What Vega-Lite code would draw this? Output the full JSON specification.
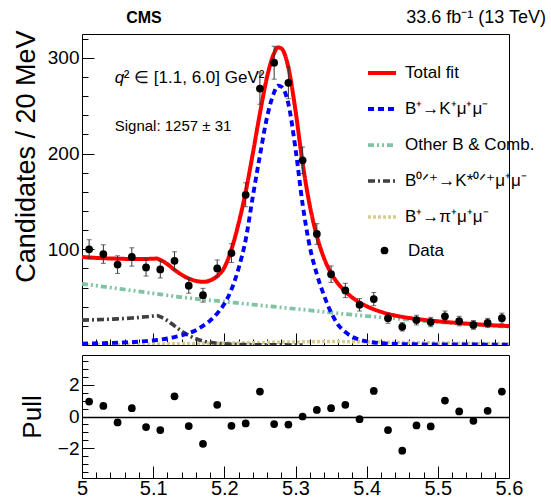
{
  "$schema": "https://vega.github.io/schema/vega-lite/v6.json",
  "padding": {"left": 11, "top": 8, "right": 0, "bottom": 0},
  "background": "white",
  "spacing": 5,
  "config": {
    "font": "Liberation Sans",
    "view": {"stroke": "#000", "strokeWidth": 1},
    "axis": {"domain": false, "ticks": true, "tickColor": "black", "tickWidth": 1, "tickOpacity": 1, "labelColor": "#000", "titleColor": "#000", "grid": false, "labelFont": "Liberation Sans", "titleFont": "Liberation Sans", "titleFontWeight": "normal", "zindex": 1}
  },
  "datasets": {
    "fit": [
      {"m": 5.00, "total": 92, "sig": 1.5, "comb": 64, "kst": 26, "pi": 0.3},
      {"m": 5.01, "total": 91.5, "sig": 1.6, "comb": 63, "kst": 26.2, "pi": 0.35},
      {"m": 5.02, "total": 91, "sig": 1.8, "comb": 62, "kst": 26.4, "pi": 0.4},
      {"m": 5.03, "total": 90.7, "sig": 2, "comb": 61, "kst": 26.7, "pi": 0.45},
      {"m": 5.04, "total": 90.4, "sig": 2.2, "comb": 60, "kst": 27, "pi": 0.5},
      {"m": 5.05, "total": 90.2, "sig": 2.4, "comb": 59, "kst": 27.3, "pi": 0.55},
      {"m": 5.06, "total": 90, "sig": 2.7, "comb": 58, "kst": 27.7, "pi": 0.6},
      {"m": 5.07, "total": 89.8, "sig": 3, "comb": 57, "kst": 28.2, "pi": 0.7},
      {"m": 5.08, "total": 89.8, "sig": 3.5, "comb": 56, "kst": 28.8, "pi": 0.8},
      {"m": 5.09, "total": 89.9, "sig": 4.1, "comb": 55, "kst": 29.5, "pi": 0.9},
      {"m": 5.10, "total": 90.2, "sig": 4.8, "comb": 54, "kst": 30.3, "pi": 1.0},
      {"m": 5.105, "total": 90.3, "sig": 5.2, "comb": 53.5, "kst": 30.8, "pi": 1.05},
      {"m": 5.11, "total": 89, "sig": 5.7, "comb": 53, "kst": 29.5, "pi": 1.1},
      {"m": 5.12, "total": 84.5, "sig": 6.8, "comb": 52, "kst": 25.5, "pi": 1.2},
      {"m": 5.13, "total": 78.5, "sig": 8.2, "comb": 51, "kst": 20, "pi": 1.3},
      {"m": 5.14, "total": 73.5, "sig": 10, "comb": 50, "kst": 14.5, "pi": 1.4},
      {"m": 5.15, "total": 69.5, "sig": 12.3, "comb": 49.2, "kst": 10, "pi": 1.5},
      {"m": 5.16, "total": 67, "sig": 15.5, "comb": 48.3, "kst": 6.5, "pi": 1.6},
      {"m": 5.17, "total": 66, "sig": 20, "comb": 47.5, "kst": 4.2, "pi": 1.7},
      {"m": 5.18, "total": 67.5, "sig": 25.5, "comb": 46.7, "kst": 2.8, "pi": 1.8},
      {"m": 5.19, "total": 72, "sig": 33, "comb": 46, "kst": 1.8, "pi": 1.9},
      {"m": 5.20, "total": 81, "sig": 43, "comb": 45.3, "kst": 1.2, "pi": 2.0},
      {"m": 5.21, "total": 100, "sig": 58, "comb": 44.5, "kst": 0.8, "pi": 2.1},
      {"m": 5.22, "total": 127, "sig": 80, "comb": 43.7, "kst": 0.6, "pi": 2.2},
      {"m": 5.23, "total": 160, "sig": 110, "comb": 43, "kst": 0.4, "pi": 2.3},
      {"m": 5.24, "total": 200, "sig": 155, "comb": 42.2, "kst": 0.3, "pi": 2.4},
      {"m": 5.25, "total": 242, "sig": 198, "comb": 41.5, "kst": 0.2, "pi": 2.5},
      {"m": 5.26, "total": 280, "sig": 238, "comb": 40.7, "kst": 0.15, "pi": 2.7},
      {"m": 5.27, "total": 305, "sig": 264, "comb": 40, "kst": 0.1, "pi": 2.8},
      {"m": 5.275, "total": 311, "sig": 271, "comb": 39.6, "kst": 0.1, "pi": 2.9},
      {"m": 5.28, "total": 310, "sig": 270, "comb": 39.2, "kst": 0.1, "pi": 3.0},
      {"m": 5.29, "total": 290, "sig": 252, "comb": 38.5, "kst": 0.05, "pi": 3.1},
      {"m": 5.30, "total": 245, "sig": 205, "comb": 37.7, "kst": 0, "pi": 3.2},
      {"m": 5.31, "total": 190, "sig": 147, "comb": 37, "kst": 0, "pi": 3.3},
      {"m": 5.32, "total": 146, "sig": 103, "comb": 36.2, "pi": 3.4},
      {"m": 5.33, "total": 114, "sig": 74, "comb": 35.4, "pi": 3.5},
      {"m": 5.34, "total": 91, "sig": 52, "comb": 34.6, "pi": 3.6},
      {"m": 5.35, "total": 75, "sig": 34, "comb": 33.8, "pi": 3.6},
      {"m": 5.36, "total": 64, "sig": 21, "comb": 33, "pi": 3.6},
      {"m": 5.37, "total": 56, "sig": 13.5, "comb": 32.3, "pi": 3.5},
      {"m": 5.38, "total": 49.5, "sig": 8.5, "comb": 31.6, "pi": 3.4},
      {"m": 5.39, "total": 44.5, "sig": 5.5, "comb": 30.9, "pi": 3.3},
      {"m": 5.40, "total": 40.5, "sig": 3.7, "comb": 30.2, "pi": 3.2},
      {"m": 5.41, "total": 37.3, "sig": 2.6, "comb": 29.6, "pi": 3.1},
      {"m": 5.42, "total": 34.7, "sig": 1.9, "comb": 29, "pi": 3.0},
      {"m": 5.43, "total": 32.5, "sig": 1.4, "comb": 28.4, "pi": 2.9},
      {"m": 5.44, "total": 30.8, "sig": 1.1, "comb": 27.8, "pi": 2.8},
      {"m": 5.45, "total": 29.4, "sig": 0.9, "comb": 27.2, "pi": 2.7},
      {"m": 5.46, "total": 28.2, "sig": 0.8, "comb": 26.6, "pi": 2.6},
      {"m": 5.47, "total": 27.2, "sig": 0.75, "comb": 26, "pi": 2.5},
      {"m": 5.48, "total": 26.3, "sig": 0.7, "comb": 25.2, "pi": 2.4},
      {"m": 5.49, "total": 25.5, "sig": 0.65, "comb": 24.6, "pi": 2.3},
      {"m": 5.50, "total": 24.8, "sig": 0.6, "comb": 24, "pi": 2.2},
      {"m": 5.51, "total": 24.1, "sig": 0.6, "comb": 23.5, "pi": 2.1},
      {"m": 5.52, "total": 23.5, "sig": 0.55, "comb": 23, "pi": 2.0},
      {"m": 5.53, "total": 22.9, "sig": 0.55, "comb": 22.4, "pi": 1.9},
      {"m": 5.54, "total": 22.4, "sig": 0.5, "comb": 21.9, "pi": 1.8},
      {"m": 5.55, "total": 21.9, "sig": 0.5, "comb": 21.4, "pi": 1.7},
      {"m": 5.56, "total": 21.4, "sig": 0.5, "comb": 20.9, "pi": 1.6},
      {"m": 5.57, "total": 20.9, "sig": 0.45, "comb": 20.4, "pi": 1.5},
      {"m": 5.58, "total": 20.5, "sig": 0.45, "comb": 19.9, "pi": 1.4},
      {"m": 5.59, "total": 20.1, "sig": 0.4, "comb": 19.4, "pi": 1.3},
      {"m": 5.60, "total": 19.8, "sig": 0.4, "comb": 19, "pi": 1.2}
    ],
    "pts": [
      {"m": 5.01, "v": 100, "err": 10, "pull": 0.95},
      {"m": 5.03, "v": 95, "err": 9.7, "pull": 0.67},
      {"m": 5.05, "v": 84, "err": 9.2, "pull": -0.38},
      {"m": 5.07, "v": 92, "err": 9.6, "pull": 0.53},
      {"m": 5.09, "v": 81, "err": 9, "pull": -0.67},
      {"m": 5.11, "v": 79, "err": 8.9, "pull": -0.86},
      {"m": 5.13, "v": 88, "err": 9.4, "pull": 1.28},
      {"m": 5.15, "v": 62, "err": 7.9, "pull": -0.61},
      {"m": 5.17, "v": 52, "err": 7.2, "pull": -1.73},
      {"m": 5.19, "v": 80, "err": 8.9, "pull": 0.74},
      {"m": 5.21, "v": 96, "err": 9.8, "pull": -0.59},
      {"m": 5.23, "v": 157, "err": 12.5, "pull": -0.44},
      {"m": 5.25, "v": 268, "err": 16.4, "pull": 1.58},
      {"m": 5.27, "v": 295, "err": 17.2, "pull": -0.48},
      {"m": 5.29, "v": 274, "err": 16.6, "pull": -0.51},
      {"m": 5.31, "v": 193, "err": 13.9, "pull": 0.0},
      {"m": 5.33, "v": 116, "err": 10.8, "pull": 0.42},
      {"m": 5.35, "v": 74, "err": 8.6, "pull": 0.53},
      {"m": 5.37, "v": 57, "err": 7.5, "pull": 0.74},
      {"m": 5.39, "v": 42, "err": 6.5, "pull": -0.17},
      {"m": 5.41, "v": 48, "err": 6.9, "pull": 1.62},
      {"m": 5.43, "v": 28, "err": 5.3, "pull": -0.86},
      {"m": 5.45, "v": 19, "err": 4.4, "pull": -2.17},
      {"m": 5.47, "v": 26, "err": 5.1, "pull": -0.57},
      {"m": 5.49, "v": 24, "err": 4.9, "pull": -0.63},
      {"m": 5.51, "v": 30, "err": 5.5, "pull": 1.01},
      {"m": 5.53, "v": 25, "err": 5, "pull": 0.32},
      {"m": 5.55, "v": 21, "err": 4.6, "pull": -0.27},
      {"m": 5.57, "v": 23, "err": 4.8, "pull": 0.36},
      {"m": 5.59, "v": 28, "err": 5.3, "pull": 1.58}
    ],
    "notes": [
      {"m": 5.087, "v": 336, "label": "CMS", "kind": "cms"},
      {"m": 5.652, "v": 336, "label": "33.6 fb⁻¹ (13 TeV)", "kind": "lumi"},
      {"m": 5.046, "v": 224, "label": "Signal: 1257 ± 31", "kind": "sig"},
      {"m": 5.046, "v": 274, "label": "q", "kind": "q"},
      {"m": 5.046, "v": 274, "label": "² ∈ [1.1, 6.0] GeV²", "kind": "qrest"}
    ]
  },
  "vconcat": [
    {
      "width": 427,
      "height": 311,
      "encoding": {
        "x": {"field": "m", "type": "quantitative", "scale": {"domain": [5, 5.6], "nice": false, "zero": false},
          "axis": {"title": null, "labels": false, "offset": -12, "ticks": true, "tickSize": 12, "tickColor": "black",
            "values": [5.02,5.04,5.06,5.08,5.1,5.12,5.14,5.16,5.18,5.2,5.22,5.24,5.26,5.28,5.3,5.32,5.34,5.36,5.38,5.4,5.42,5.44,5.46,5.48,5.5,5.52,5.54,5.56,5.58],
            "tickDash": {"condition": {"test": "abs(datum.value*10 - round(datum.value*10)) > 0.001", "value": [0, 6, 6, 100]}, "value": [20, 0]}}},
        "y": {"field": "v", "type": "quantitative", "title": "Candidates / 20 MeV", "scale": {"domain": [0, 325], "nice": false},
          "axis": {"titleFontSize": 27, "titleAnchor": "end", "titleAlign": "right", "titleY": -4, "titlePadding": 7,
            "offset": -12, "ticks": true, "tickSize": 12, "tickColor": "black", "labelOverlap": false,
            "values": [20,40,60,80,100,120,140,160,180,200,220,240,260,280,300,320],
            "labelExpr": "datum.value % 100 === 0 ? datum.label : ''",
            "labelFontSize": 19, "labelPadding": 3,
            "tickDash": {"condition": {"test": "datum.value % 100 !== 0", "value": [0, 6, 6, 100]}, "value": [20, 0]}}}
      },
      "layer": [
        {
          "data": {"name": "fit"},
          "transform": [{"fold": ["pi", "kst", "comb", "sig", "total"], "as": ["comp", "v"]}],
          "mark": {"type": "line", "interpolate": "monotone", "clip": true},
          "encoding": {
            "color": {"field": "comp", "type": "nominal",
              "scale": {"domain": ["total", "sig", "comb", "kst", "pi"], "range": ["#ff0000", "#0000ff", "#80c4a4", "#404040", "#d6cd8e"]},
              "legend": {"title": null, "orient": "none", "legendX": 284, "legendY": 23, "symbolType": "stroke", "symbolSize": 784, "symbolStrokeWidth": 4,
                "labelFontSize": 17, "labelFont": "Liberation Sans", "rowPadding": 12, "labelOffset": 7,
                "labelExpr": "{'total': 'Total fit', 'sig': 'B⁺→K⁺μ⁺μ⁻', 'comb': 'Other B & Comb.', 'kst': 'B⁰ᐟ⁺→K*⁰ᐟ⁺μ⁺μ⁻', 'pi': 'B⁺→π⁺μ⁺μ⁻'}[datum.label]"}},
            "strokeDash": {"field": "comp", "type": "nominal",
              "scale": {"domain": ["total", "sig", "comb", "kst", "pi"], "range": [[1, 0], [6, 4], [6, 3, 2, 3, 2, 3], [7, 3, 2, 3], [3, 2]]}},
            "strokeWidth": {"field": "comp", "type": "nominal", "legend": null,
              "scale": {"domain": ["total", "sig", "comb", "kst", "pi"], "range": [4, 3.5, 3.5, 3.5, 3.5]}}
          }
        },
        {
          "data": {"name": "pts"},
          "mark": {"type": "errorbar", "ticks": {"size": 5, "color": "#333"}, "color": "#333", "thickness": 1},
          "encoding": {"yError": {"field": "err"}}
        },
        {
          "data": {"name": "pts"},
          "mark": {"type": "point", "filled": true, "color": "#000", "size": 60, "opacity": 1},
          "encoding": {
            "shape": {"datum": "Data", "scale": {"range": ["circle"]},
              "legend": {"title": null, "orient": "none", "legendX": 294, "legendY": 208, "labelFontSize": 17, "labelFont": "Liberation Sans", "symbolFillColor": "#000", "symbolStrokeColor": "#000", "symbolSize": 60, "labelOffset": 15}}
          }
        },
        {
          "data": {"name": "notes"},
          "transform": [{"filter": "datum.kind === 'cms'"}],
          "mark": {"type": "text", "align": "center", "baseline": "alphabetic", "fontSize": 16, "fontWeight": "bold", "font": "Liberation Sans"},
          "encoding": {"text": {"field": "label"}}
        },
        {
          "data": {"name": "notes"},
          "transform": [{"filter": "datum.kind === 'lumi'"}],
          "mark": {"type": "text", "align": "right", "baseline": "alphabetic", "fontSize": 18, "font": "Liberation Sans"},
          "encoding": {"text": {"field": "label"}}
        },
        {
          "data": {"name": "notes"},
          "transform": [{"filter": "datum.kind === 'sig'"}],
          "mark": {"type": "text", "align": "left", "baseline": "alphabetic", "fontSize": 15, "font": "Liberation Sans"},
          "encoding": {"text": {"field": "label"}}
        },
        {
          "data": {"name": "notes"},
          "transform": [{"filter": "datum.kind === 'q'"}],
          "mark": {"type": "text", "align": "left", "baseline": "alphabetic", "fontSize": 17, "font": "Liberation Sans", "fontStyle": "italic"},
          "encoding": {"text": {"field": "label"}}
        },
        {
          "data": {"name": "notes"},
          "transform": [{"filter": "datum.kind === 'qrest'"}],
          "mark": {"type": "text", "align": "left", "baseline": "alphabetic", "fontSize": 17, "font": "Liberation Sans", "dx": 9},
          "encoding": {"text": {"field": "label"}}
        }
      ]
    },
    {
      "width": 427,
      "height": 123,
      "data": {"name": "pts"},
      "mark": {"type": "point", "filled": true, "color": "#000", "size": 60, "opacity": 1},
      "encoding": {
        "x": {"field": "m", "type": "quantitative", "scale": {"domain": [5, 5.6], "nice": false, "zero": false},
          "axis": {"title": null, "offset": -12, "ticks": true, "tickSize": 12, "tickColor": "black", "labelOverlap": false,
            "values": [5,5.02,5.04,5.06,5.08,5.1,5.12,5.14,5.16,5.18,5.2,5.22,5.24,5.26,5.28,5.3,5.32,5.34,5.36,5.38,5.4,5.42,5.44,5.46,5.48,5.5,5.52,5.54,5.56,5.58,5.6],
            "labelExpr": "abs(datum.value*10 - round(datum.value*10)) < 0.001 ? format(datum.value, '~g') : ''",
            "labelFontSize": 20, "labelPadding": 0, "labelFlush": false,
            "tickDash": {"condition": {"test": "abs(datum.value*10 - round(datum.value*10)) > 0.001", "value": [0, 6, 6, 100]}, "value": [20, 0]}}},
        "y": {"field": "pull", "type": "quantitative", "scale": {"domain": [-3.9, 3.9], "nice": false},
          "axis": {"title": "Pull", "titleFontSize": 26, "titlePadding": 12, "offset": -12, "ticks": true, "tickSize": 12, "tickColor": "black", "labelOverlap": false,
            "values": [-3.5,-3,-2.5,-2,-1.5,-1,-0.5,0,0.5,1,1.5,2,2.5,3,3.5],
            "labelExpr": "datum.value % 2 === 0 ? format(datum.value, '~g') : ''",
            "labelFontSize": 19, "labelPadding": 3,
            "grid": true, "gridColor": "black", "gridWidth": 1.5,
            "gridOpacity": {"condition": {"test": "datum.value === 0", "value": 1}, "value": 0},
            "tickDash": {"condition": {"test": "datum.value % 2 !== 0", "value": [0, 6, 6, 100]}, "value": [20, 0]}}}
      }
    }
  ]
}
